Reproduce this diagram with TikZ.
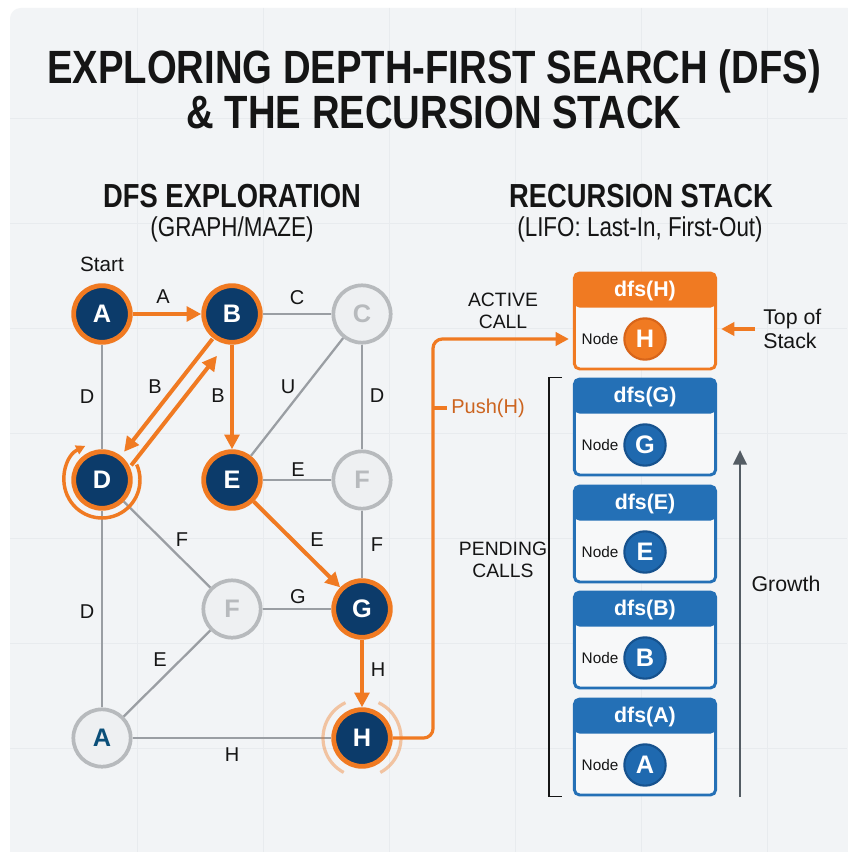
\documentclass[tikz,border=0pt]{standalone}
\usepackage{fontspec}
\setmainfont{Liberation Sans}
\newfontfamily\condfont[FakeStretch=0.82]{Liberation Sans}
\usetikzlibrary{arrows.meta,calc}

\definecolor{navy}{HTML}{0C3B6A}
\definecolor{orng}{HTML}{F07A22}
\definecolor{orngdark}{HTML}{D8651A}
\definecolor{pushtxt}{HTML}{CC641F}
\definecolor{edgegray}{HTML}{9A9EA3}
\definecolor{ghostfill}{HTML}{EEF0F2}
\definecolor{ghostline}{HTML}{B7BABD}
\definecolor{stackblue}{HTML}{2470B6}
\definecolor{circblue}{HTML}{1F69AF}
\definecolor{circbluedark}{HTML}{16528E}
\definecolor{panel}{HTML}{F2F4F6}
\definecolor{gridc}{HTML}{E8EBEE}
\definecolor{growthc}{HTML}{545C64}
\definecolor{ink}{HTML}{151515}
\definecolor{bodyfill}{HTML}{F7F8F9}

% one frame of the call stack: #1 name, #2 top edge, #3 colour, #4 vertex letter,
% #5 and #6 fill and rim of the vertex disc
\newcommand{\callframe}[6]{%
  \node[frame, draw=#3, path picture={\fill[#3] (path picture bounding box.north west) rectangle ([yshift=-26pt]path picture bounding box.north east);}] (#1) at (645,#2+49) {};
  \node[hdr] (#1t) at (645,#2+19) {dfs(#4)};
  \node[scirc, fill=#5, draw=#6] (#1c) at (645,#2+67) {#4};
  \node[nodetxt] (#1n) at (600,#2+67) {Node};
}

\begin{document}
\begin{tikzpicture}[x=0.75pt,y=-0.75pt,
  vnode/.style={circle, inner sep=0, minimum size=42.5pt, fill=navy, draw=orng, line width=3.6pt,
    text=white, font=\bfseries\fontsize{19}{19}\selectfont},
  gnode/.style={circle, inner sep=0, minimum size=43pt, fill=ghostfill, draw=ghostline, line width=2.8pt,
    text=ghostline, font=\bfseries\fontsize{19}{19}\selectfont},
  graye/.style={draw=edgegray, line width=1.7pt},
  oarrow/.style={draw=orng, line width=3pt, -{Triangle[length=11pt,width=11pt]}},
  elab/.style={font=\fontsize{15}{15}\selectfont, text=ink, inner sep=1pt},
  frame/.style={rectangle, rounded corners=4pt, minimum width=106pt, minimum height=72pt,
    fill=bodyfill, line width=2.2pt, inner sep=0},
  hdr/.style={text=white, font=\bfseries\fontsize{16}{16}\selectfont, inner sep=0},
  scirc/.style={circle, inner sep=0, minimum size=31pt, line width=1.6pt, text=white,
    font=\bfseries\fontsize{19}{19}\selectfont},
  nodetxt/.style={font=\fontsize{11.5}{11.5}\selectfont, text=ink, inner sep=0},
  sidelbl/.style={font=\fontsize{14.5}{17}\selectfont, text=ink, align=center},
]
\useasboundingbox (0,0) rectangle (847,852);

% backdrop and faint grid
\fill[white] (0,0) rectangle (847,852);
\fill[panel, rounded corners=8pt] (10,8) rectangle (870,870);
\begin{scope}
  \clip[rounded corners=8pt] (10,8) rectangle (870,870);
  \foreach \x in {137,263,389,515,641,767} \draw[gridc, line width=0.6pt] (\x,8) -- (\x,852);
  \foreach \y in {118,223,328,433,538,643,748} \draw[gridc, line width=0.6pt] (10,\y) -- (847,\y);
\end{scope}

% titles
\node[anchor=base, text=ink, font=\condfont\bfseries\fontsize{35}{35}\selectfont] (title1) at (434,84) {EXPLORING DEPTH-FIRST SEARCH (DFS)};
\node[anchor=base, text=ink, font=\condfont\bfseries\fontsize{35}{35}\selectfont] (title2) at (434,129) {\& THE RECURSION STACK};
\node[anchor=base, text=ink, font=\condfont\bfseries\fontsize{25}{25}\selectfont] (lhead) at (232,208) {DFS EXPLORATION};
\node[anchor=base, text=ink, font=\condfont\fontsize{20.5}{20.5}\selectfont] (lsub) at (232,236) {(GRAPH/MAZE)};
\node[anchor=base, text=ink, font=\condfont\bfseries\fontsize{25}{25}\selectfont] (rhead) at (641,208) {RECURSION STACK};
\node[anchor=base, text=ink, font=\condfont\fontsize{20.5}{20.5}\selectfont] (rsub) at (640,236) {(LIFO: Last-In, First-Out)};

% graph vertices
\node[vnode] (A1) at (102,314) {A};
\node[vnode] (B)  at (232,314) {B};
\node[gnode] (C)  at (362,314) {C};
\node[vnode] (D)  at (102,480) {D};
\node[vnode] (E)  at (232,480) {E};
\node[gnode] (F1) at (362,480) {F};
\node[gnode] (F2) at (232,609) {F};
\node[vnode] (G)  at (362,609) {G};
\node[gnode, text=navy!90!cyan] (A2) at (102,738) {A};
\node[vnode] (H)  at (362,738) {H};
\node[font=\fontsize{15.5}{15.5}\selectfont, text=ink] (start) at (102,264) {Start};

% unvisited edges
\draw[graye] (A1) -- (D);
\draw[graye] (B) -- (C);
\draw[graye] (C) -- (E);
\draw[graye] (C) -- (F1);
\draw[graye] (E) -- (F1);
\draw[graye] (D) -- (F2);
\draw[graye] (D) -- (A2);
\draw[graye] (F2) -- (G);
\draw[graye] (F1) -- (G);
\draw[graye] (F2) -- (A2);
\draw[graye] (A2) -- (H);

% traversal path
\draw[oarrow] (A1) -- (B);
\draw[oarrow] ($(B)!0.15!(D)$) -- ($(B)!0.83!(D)$);
\draw[oarrow] ([shift={(11,8.6)}]$(D)!0.14!(B)$) -- ([shift={(11,8.6)}]$(D)!0.80!(B)$);
\draw[oarrow] (B) -- (E);
\draw[oarrow] (E) -- (G);
\draw[oarrow] (G) -- (H);

% backtracking loop round D
\draw[orng, line width=2.6pt, -{Triangle[length=7pt,width=7pt]}]
  ($(D)+(-24:38)$) arc[start angle=-24, end angle=244, radius=38];

% glow round the current vertex H
\draw[orng, opacity=0.4, line width=2.4pt] ($(H)+(-115:39)$) arc[start angle=-115, end angle=-242, radius=39];
\draw[orng, opacity=0.4, line width=2.4pt] ($(H)+(-65:39)$) arc[start angle=-65, end angle=62, radius=39];

% edge labels
\node[elab] (lAB)  at (163,297) {A};
\node[elab] (lBC)  at (297,298) {C};
\node[elab] (lAD)  at (87,397)  {D};
\node[elab] (lBD)  at (155,387) {B};
\node[elab] (lBE)  at (218,396) {B};
\node[elab] (lCE)  at (288,387) {U};
\node[elab] (lCF)  at (377,396) {D};
\node[elab] (lEF)  at (298,470) {E};
\node[elab] (lDF)  at (182,540) {F};
\node[elab] (lEG)  at (317,540) {E};
\node[elab] (lFG)  at (377,545) {F};
\node[elab] (lF2G) at (298,597) {G};
\node[elab] (lDA)  at (87,612)  {D};
\node[elab] (lFA)  at (160,660) {E};
\node[elab] (lGH)  at (378,670) {H};
\node[elab] (lAH)  at (232,755) {H};

% call stack frames
\callframe{fH}{272}{orng}{H}{orng}{orngdark}
\callframe{fG}{378}{stackblue}{G}{circblue}{circbluedark}
\callframe{fE}{485}{stackblue}{E}{circblue}{circbluedark}
\callframe{fB}{591}{stackblue}{B}{circblue}{circbluedark}
\callframe{fA}{698}{stackblue}{A}{circblue}{circbluedark}

% push of H onto the stack
\coordinate (pushx) at (433,500);
\draw[orng, line width=2.4pt, rounded corners=7pt, -{Triangle[length=10pt,width=10pt]}, shorten >=3pt]
  (H.east) -| (pushx |- fHc) -- (fH.west |- fHc);
\node[font=\fontsize{15}{15}\selectfont, text=pushtxt] (pushlbl) at (488,408) {Push(H)};
\draw[orng, line width=2.4pt] (pushx |- pushlbl) -- (pushlbl.west);

% side annotations
\node[sidelbl] (active) at (503,311) {ACTIVE\\CALL};
\node[sidelbl] (pending) at (503,560) {PENDING\\CALLS};
\node[font=\fontsize{16}{18}\selectfont, text=ink, align=left, anchor=west, inner sep=0] (topl) at (763,329) {Top of\\Stack};
\draw[orng, line width=2.4pt, -{Triangle[length=10pt,width=10pt]}, shorten >=3pt] ([xshift=-6]topl.west) -- (fH.east |- topl.west);

% bracket over the pending frames
\draw[ink, line width=1.4pt] ([xshift=-8]fG.north west) -- ([xshift=-18]fG.north west) -- ([xshift=-18]fA.south west) -- ([xshift=-8]fA.south west);

% growth direction
\coordinate (gbot) at (740,797);
\coordinate (gtop) at (740,450);
\draw[growthc, line width=2.2pt, -{Triangle[length=11pt,width=10pt]}] (gbot) -- (gtop);
\node[font=\fontsize{16}{16}\selectfont, text=ink] (growth) at (786,584) {Growth};
\end{tikzpicture}
\end{document}
